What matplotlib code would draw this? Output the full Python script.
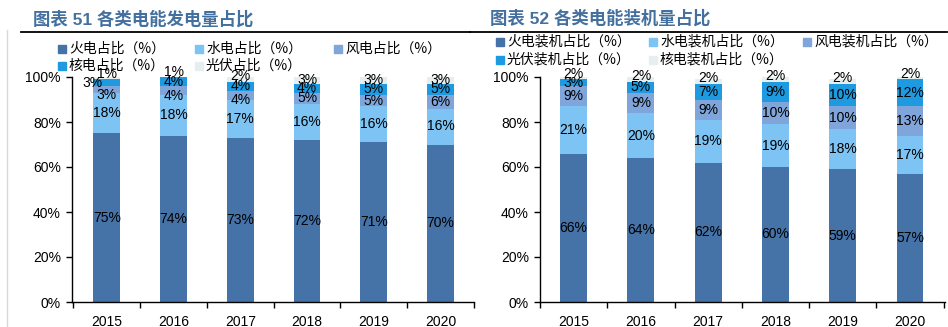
import numpy as np
import matplotlib.pyplot as plt
from matplotlib.lines import Line2D
from matplotlib.ticker import FuncFormatter

plt.rcParams['font.family'] = ['Liberation Sans', 'Noto Sans CJK SC', 'DejaVu Sans']

years = ['2015', '2016', '2017', '2018', '2019', '2020']

# 发电量占比（%）
gen_fire = [75, 74, 73, 72, 71, 70]
gen_hydro = [18, 18, 17, 16, 16, 16]
gen_wind = [3, 4, 4, 5, 5, 6]
gen_nuclear = [3, 4, 4, 4, 5, 5]
gen_solar = [1, 1, 2, 3, 3, 3]
gen_names = ['火电占比（%）', '水电占比（%）', '风电占比（%）', '核电占比（%）', '光伏占比（%）']

# 装机量占比（%）
cap_fire = [66, 64, 62, 60, 59, 57]
cap_hydro = [21, 20, 19, 19, 18, 17]
cap_wind = [9, 9, 9, 10, 10, 13]
cap_solar = [3, 5, 7, 9, 10, 12]
cap_nuclear = [2, 2, 2, 2, 2, 2]
cap_names = ['火电装机占比（%）', '水电装机占比（%）', '风电装机占比（%）', '光伏装机占比（%）', '核电装机占比（%）']

c_fire = '#4572A7'
c_hydro = '#7DC3F3'
c_wind = '#7FA5DB'
c_blue = '#1E9AE0'
c_gray = '#E6EEEF'

title_color = '#44709F'

W, H = 948, 327
fig = plt.figure(figsize=(W / 100, H / 100), dpi=100)


def px(x0, y0, w, h):
    return [x0 / W, 1 - (y0 + h) / H, w / W, h / H]


def stacked(ax, series, colors, xlim, label_shift=None):
    x = np.arange(len(years))
    bottom = np.zeros(len(years))
    for k, (vals, col) in enumerate(zip(series, colors)):
        vals = np.array(vals, dtype=float)
        ax.bar(x, vals, width=0.4, bottom=bottom, color=col, zorder=2)
        for i, v in enumerate(vals):
            yc = bottom[i] + v / 2
            dx = 0
            if label_shift and (k, i) in label_shift:
                dx, dy = label_shift[(k, i)]
                yc += dy
            ax.text(x[i] + dx, yc, f'{int(v)}%', ha='center', va='center',
                    fontsize=10, color='black', zorder=3, clip_on=False)
        bottom += vals
    ax.set_ylim(0, 100)
    ax.set_xlim(*xlim)
    ax.set_yticks(np.arange(0, 101, 20))
    ax.yaxis.set_major_formatter(FuncFormatter(lambda v, p: f'{int(v)}%'))
    ax.set_xticks(x)
    ax.set_xticklabels(years)
    ax.set_xticks(np.arange(-0.5, len(years)), minor=True)
    ax.tick_params(axis='x', which='major', length=0, labelsize=10, pad=9)
    ax.tick_params(axis='x', which='minor', length=4, width=1, direction='out')
    ax.tick_params(axis='y', length=4, width=1, direction='out', labelsize=10, pad=4)
    for s in ['top', 'right']:
        ax.spines[s].set_visible(False)
    ax.spines['left'].set_linewidth(1)
    ax.spines['bottom'].set_linewidth(1)


# 左图：发电量
ax1 = fig.add_axes(px(72, 77, 402, 225))
stacked(ax1, [gen_fire, gen_hydro, gen_wind, gen_nuclear, gen_solar],
        [c_fire, c_hydro, c_wind, c_blue, c_gray], (-0.52, 5.48),
        label_shift={(2, 0): (0, -2.5), (3, 0): (-0.22, 0), (4, 0): (0, 2),
                     (2, 1): (0, -2.5), (4, 1): (0, 1.5),
                     (2, 2): (0, -2), (4, 2): (0, 1.5)})

# 右图：装机量
ax2 = fig.add_axes(px(540, 77, 405, 225))
stacked(ax2, [cap_fire, cap_hydro, cap_wind, cap_solar, cap_nuclear],
        [c_fire, c_hydro, c_wind, c_blue, c_gray], (-0.49, 5.52),
        label_shift={(4, i): (0, 1.5) for i in range(6)})

# 标题与分隔线
fig.text(33 / W, 1 - 19 / H, '图表 51 各类电能发电量占比', fontsize=12.5,
         fontweight='bold', color=title_color, va='center', ha='left')
fig.text(490 / W, 1 - 18 / H, '图表 52 各类电能装机量占比', fontsize=12.5,
         fontweight='bold', color=title_color, va='center', ha='left')
fig.add_artist(Line2D([21 / W, 470 / W], [1 - 32 / H, 1 - 32 / H], color='black', lw=1.3))
fig.add_artist(Line2D([470 / W, 947 / W], [1 - 32 / H, 1 - 32 / H], color='black', lw=1.3))
fig.add_artist(Line2D([7 / W, 7 / W], [0, 1 - 30 / H], color='#D9D9D9', lw=1))

# 图例
leg_font = {'family': ['Noto Sans CJK SC', 'DejaVu Sans'], 'size': 10}


def legend_row(items, xs, y):
    for (name, col), xm in zip(items, xs):
        fig.add_artist(plt.Rectangle((xm / W - 4 / W, 1 - (y + 4) / H), 8 / W, 8 / H,
                                     color=col, transform=fig.transFigure))
        fig.text((xm + 7) / W, 1 - y / H, name, fontdict=leg_font, va='center', ha='left')


gen_cols = [c_fire, c_hydro, c_wind, c_blue, c_gray]
legend_row(list(zip(gen_names[:3], gen_cols[:3])), [62, 199, 338], 49)
legend_row(list(zip(gen_names[3:], gen_cols[3:])), [62, 199], 66)

cap_cols = [c_fire, c_hydro, c_wind, c_blue, c_gray]
legend_row(list(zip(cap_names[:3], cap_cols[:3])), [500, 653, 807], 42)
legend_row(list(zip(cap_names[3:], cap_cols[3:])), [500, 653], 60)

fig.savefig('out.png', dpi=100)
